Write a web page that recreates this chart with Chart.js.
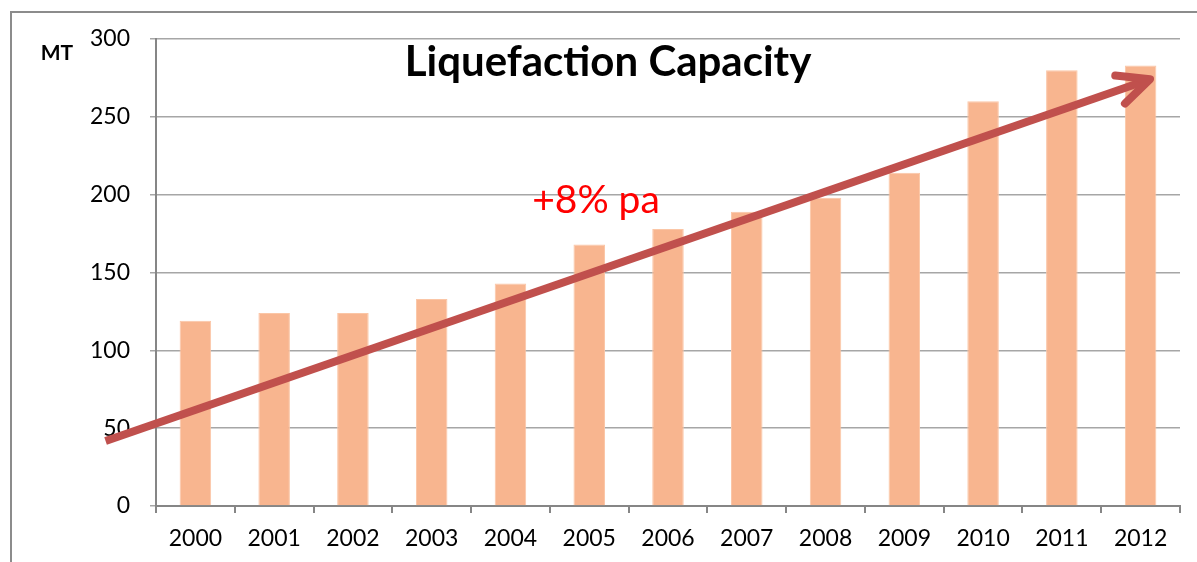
<!DOCTYPE html>
<html>
<head>
<meta charset="utf-8">
<script src="https://cdn.jsdelivr.net/npm/chart.js@4.4.1/dist/chart.umd.min.js"></script>
<style>
body { margin: 0; background: #fff; }
#wrap { width: 1197px; height: 562px; position: relative; }
</style>
</head>
<body>
<div id="wrap"><canvas id="capChart"></canvas></div>
<script>
// data
let years = ["2000","2001","2002","2003","2004","2005","2006","2007","2008","2009","2010","2011","2012"];
let capacity = [119, 124, 124, 133, 143, 168, 178, 189, 198, 214, 260, 280, 283];
let yTicks = [0, 50, 100, 150, 200, 250, 300];

// trend arrow ends, in data units (category index, MT)
let trendFrom = [-1.14, 41.7];
let trendTo = [12.12, 274.2];

let fontName = "Lato, 'Open Sans', sans-serif";

/* frame, title, trend arrow */
const extras = {
id: "extras",
beforeDraw(chart){
  let ctx = chart.ctx;
  ctx.save();
  ctx.strokeStyle = "#8c8c8c";
  ctx.lineWidth = 2;
  ctx.beginPath();
  ctx.moveTo(11, chart.height);
  ctx.lineTo(11, 12);
  ctx.lineTo(chart.width, 12);
  ctx.stroke();
  ctx.restore();
},
afterDatasetsDraw(chart){
  let ctx = chart.ctx;
  let xs = chart.scales.x, ys = chart.scales.y;

  let x0 = xs.getPixelForValue(trendFrom[0]), y0 = ys.getPixelForValue(trendFrom[1]);
  let x1 = xs.getPixelForValue(trendTo[0]), y1 = ys.getPixelForValue(trendTo[1]);
  let dir = Math.atan2(y1 - y0, x1 - x0);

  ctx.save();
  ctx.strokeStyle = "#C0504D";
  ctx.lineWidth = 8;
  ctx.lineCap = "butt";
  ctx.beginPath();
  ctx.moveTo(x0, y0);
  ctx.lineTo(x1 - 4 * Math.cos(dir), y1 - 4 * Math.sin(dir));
  ctx.stroke();

  // open arrow head
  let back = dir + Math.PI;
  let arm = 35;
  let spread = 25 * Math.PI / 180;
  ctx.lineCap = "round";
  ctx.lineJoin = "round";
  ctx.beginPath();
  ctx.moveTo(x1 + arm * Math.cos(back + spread), y1 + arm * Math.sin(back + spread));
  ctx.lineTo(x1, y1);
  ctx.lineTo(x1 + arm * Math.cos(back - spread), y1 + arm * Math.sin(back - spread));
  ctx.stroke();
  ctx.restore();

  // texts
  ctx.save();
  ctx.textAlign = "center";
  ctx.textBaseline = "alphabetic";
  ctx.fillStyle = "#000";
  ctx.font = "bold 42px " + fontName;
  ctx.fillText("Liquefaction Capacity", 608, 76);

  ctx.fillStyle = "#FF0000";
  ctx.font = "39px " + fontName;
  ctx.fillText("+8% pa", 596, 213);

  ctx.fillStyle = "#000";
  ctx.font = "bold 21px " + fontName;
  ctx.fillText("MT", 57, 60);
  ctx.restore();
}
};

let chart = new Chart(document.getElementById("capChart"), {
type: "bar",
data: {
labels: years,
datasets: [{
label: "Capacity",
data: capacity,
backgroundColor: "#F8B58F",
borderColor: "#FBC6A6",
borderWidth: 1,
categoryPercentage: 1,
barPercentage: 0.4
}]
},
options: {
responsive: true,
maintainAspectRatio: false,
animation: false,
layout: { padding: { top: 39, right: 17, left: 0, bottom: 0 } },
plugins: {
legend: { display: false },
tooltip: { enabled: false }
},
scales: {
x: {
offset: true,
grid: { drawOnChartArea: false, drawTicks: true, tickLength: 7, color: "#868686", lineWidth: 2 },
border: { color: "#868686", width: 2 },
ticks: { color: "#000", font: { family: fontName, size: 23 }, padding: 12 },
afterFit(s){ s.height = 56; }
},
y: {
min: 0,
max: 300,
afterBuildTicks(s){ s.ticks = yTicks.map(v => ({ value: v })); },
grid: { color: "#A6A6A6", lineWidth: 1.5, tickLength: 6 },
border: { color: "#868686", width: 2 },
ticks: { color: "#000", font: { family: fontName, size: 23 }, padding: 20 },
afterFit(s){ s.width = 156; }
}
}
},
plugins: [extras]
});
</script>
</body>
</html>
